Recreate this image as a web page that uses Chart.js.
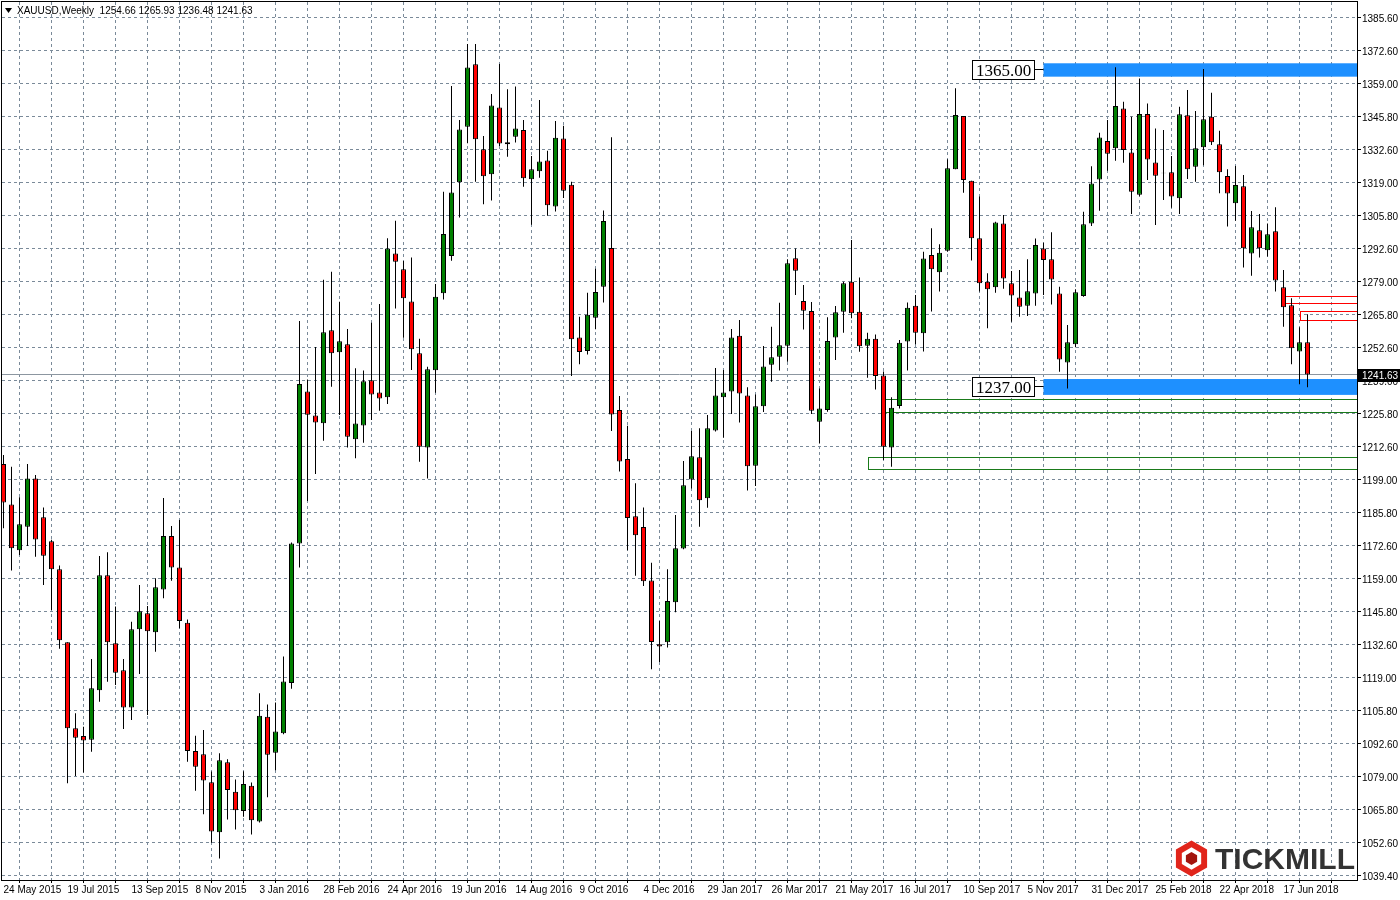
<!DOCTYPE html>
<html>
<head>
<meta charset="utf-8">
<title>XAUUSD Weekly</title>
<script src="https://cdn.jsdelivr.net/npm/chart.js@4.4.1/dist/chart.umd.min.js"></script>
<style>
  html, body { margin: 0; padding: 0; background: #fff; }
  #wrap { width: 1400px; height: 900px; }
</style>
</head>
<body>
<div id="wrap"><canvas id="chart" width="1400" height="900"></canvas></div>
<script>
const symbolTitle = 'XAUUSD,Weekly';
const lastQuote = ['1254.66', '1265.93', '1236.48', '1241.63'];
const currentPrice = 1241.63;

// weekly candles, 24 May 2015 .. 8 Jul 2018
const opens = [
  1205.5, 1189.2, 1170.7, 1180.2, 1199.7, 1184.0, 1174.3, 1163.0, 1133.6, 1098.9,
  1095.8, 1094.3, 1114.2, 1160.6, 1133.2, 1122.3, 1107.3, 1138.8, 1145.3, 1137.6,
  1154.9, 1176.5, 1163.8, 1141.5, 1089.7, 1088.4, 1077.1, 1056.9, 1085.2, 1073.3,
  1065.5, 1075.7, 1061.3, 1103.5, 1089.0, 1096.9, 1117.1, 1173.4, 1234.8, 1225.1,
  1222.0, 1259.5, 1250.6, 1253.8, 1215.5, 1221.0, 1239.3, 1234.4, 1232.4, 1290.5,
  1284.1, 1271.1, 1250.2, 1212.2, 1243.3, 1274.4, 1289.4, 1319.2, 1341.6, 1366.8,
  1332.5, 1322.4, 1349.4, 1334.5, 1337.6, 1340.3, 1320.4, 1323.6, 1328.0, 1309.4,
  1336.9, 1318.2, 1256.6, 1251.1, 1264.5, 1277.0, 1292.7, 1227.3, 1207.5, 1184.4,
  1180.1, 1158.5, 1132.8, 1133.6, 1149.7, 1171.4, 1199.3, 1208.2, 1191.7, 1219.0,
  1232.4, 1234.8, 1257.3, 1233.2, 1204.8, 1228.8, 1245.6, 1248.8, 1253.2, 1288.5,
  1271.3, 1267.2, 1222.6, 1227.3, 1256.6, 1266.9, 1279.1, 1266.9, 1253.2, 1256.1,
  1241.2, 1212.2, 1228.9, 1254.9, 1269.4, 1258.3, 1289.8, 1282.9, 1291.6, 1324.4,
  1345.9, 1319.8, 1296.6, 1279.1, 1276.8, 1302.6, 1278.4, 1272.7, 1269.4, 1274.3,
  1292.5, 1288.1, 1274.3, 1246.5, 1253.8, 1273.3, 1302.6, 1320.3, 1335.8, 1332.9,
  1349.0, 1331.2, 1314.2, 1346.7, 1327.2, 1323.0, 1323.2, 1312.7, 1346.2, 1325.5,
  1333.3, 1345.6, 1334.5, 1321.7, 1310.7, 1317.6, 1290.5, 1299.8, 1291.8, 1299.4,
  1276.8, 1269.6, 1250.9, 1254.66
];
const highs = [
  1209.1, 1204.4, 1192.1, 1205.5, 1201.1, 1188.0, 1174.9, 1164.6, 1133.6, 1104.9,
  1099.5, 1126.8, 1168.4, 1169.9, 1148.0, 1126.8, 1141.9, 1156.7, 1148.2, 1159.4,
  1191.8, 1180.5, 1182.9, 1142.8, 1095.9, 1098.2, 1081.4, 1088.8, 1086.4, 1078.2,
  1081.5, 1077.0, 1113.0, 1108.5, 1109.3, 1127.8, 1173.8, 1263.2, 1239.6, 1252.7,
  1279.9, 1283.1, 1271.0, 1260.0, 1244.1, 1243.2, 1262.5, 1270.1, 1296.6, 1303.7,
  1287.4, 1288.8, 1256.1, 1244.8, 1278.1, 1315.4, 1358.0, 1344.3, 1375.0, 1375.0,
  1337.9, 1354.8, 1366.9, 1356.7, 1357.8, 1344.3, 1329.8, 1352.4, 1331.9, 1343.9,
  1342.0, 1319.4, 1264.9, 1274.6, 1284.3, 1307.8, 1337.4, 1233.0, 1220.9, 1197.7,
  1188.0, 1165.7, 1142.2, 1163.0, 1184.9, 1206.7, 1218.8, 1219.9, 1225.3, 1244.3,
  1243.4, 1260.0, 1263.6, 1236.5, 1233.6, 1253.1, 1260.9, 1270.6, 1288.1, 1292.5,
  1277.7, 1270.9, 1236.0, 1264.7, 1269.3, 1279.1, 1295.9, 1280.8, 1258.5, 1257.8,
  1242.8, 1232.4, 1255.5, 1270.7, 1273.7, 1291.2, 1300.6, 1294.2, 1328.5, 1357.1,
  1345.9, 1319.8, 1313.4, 1282.5, 1303.3, 1306.0, 1283.4, 1283.8, 1288.1, 1296.5,
  1294.8, 1299.0, 1277.0, 1261.6, 1276.0, 1307.3, 1325.7, 1339.2, 1344.3, 1365.6,
  1351.7, 1345.6, 1361.1, 1351.0, 1340.9, 1340.3, 1329.8, 1349.7, 1356.4, 1347.9,
  1364.9, 1355.3, 1340.0, 1324.4, 1325.8, 1322.1, 1307.6, 1306.4, 1302.6, 1309.1,
  1283.8, 1272.4, 1260.7, 1265.93
];
const lows = [
  1179.6, 1162.5, 1168.8, 1172.4, 1168.1, 1156.7, 1146.6, 1131.0, 1076.7, 1079.6,
  1081.0, 1089.4, 1109.6, 1117.7, 1116.3, 1098.6, 1102.2, 1120.8, 1104.2, 1129.8,
  1151.3, 1158.4, 1139.2, 1085.4, 1073.7, 1064.2, 1052.7, 1046.3, 1062.1, 1058.0,
  1063.2, 1056.0, 1060.9, 1071.0, 1081.9, 1096.5, 1114.8, 1163.8, 1190.6, 1201.5,
  1214.9, 1236.7, 1225.3, 1212.2, 1207.8, 1214.1, 1223.3, 1227.0, 1229.7, 1268.3,
  1256.5, 1243.4, 1206.4, 1199.7, 1234.3, 1271.9, 1287.5, 1305.0, 1334.9, 1319.4,
  1310.3, 1311.8, 1333.8, 1329.5, 1335.2, 1317.4, 1302.1, 1321.0, 1305.7, 1307.4,
  1312.8, 1241.0, 1245.8, 1249.7, 1259.9, 1270.7, 1218.8, 1202.5, 1170.7, 1160.4,
  1156.3, 1122.7, 1125.6, 1131.5, 1145.7, 1171.1, 1195.6, 1180.2, 1187.9, 1218.6,
  1216.1, 1225.7, 1222.3, 1194.8, 1196.6, 1226.5, 1238.7, 1243.2, 1246.8, 1273.7,
  1259.8, 1225.7, 1213.8, 1226.6, 1247.5, 1258.5, 1264.3, 1250.8, 1240.3, 1235.6,
  1207.1, 1204.4, 1227.9, 1243.2, 1253.8, 1250.9, 1267.0, 1275.1, 1291.2, 1324.4,
  1315.0, 1287.6, 1275.1, 1260.3, 1274.6, 1276.2, 1262.9, 1264.9, 1265.2, 1269.4,
  1273.7, 1269.9, 1242.7, 1236.0, 1252.6, 1273.0, 1301.5, 1307.7, 1323.8, 1327.9,
  1327.1, 1306.4, 1313.6, 1320.1, 1301.9, 1312.0, 1308.9, 1306.4, 1320.5, 1319.4,
  1326.1, 1334.2, 1314.8, 1301.3, 1303.7, 1284.8, 1281.5, 1288.8, 1289.2, 1275.1,
  1260.9, 1245.8, 1237.7, 1236.48
];
const closes = [
  1190.0, 1171.5, 1181.2, 1199.7, 1175.1, 1168.5, 1163.0, 1134.4, 1098.9, 1095.1,
  1093.9, 1115.0, 1160.6, 1133.6, 1121.3, 1107.3, 1138.8, 1146.1, 1138.0, 1155.8,
  1176.5, 1163.8, 1142.2, 1089.7, 1083.4, 1077.8, 1057.2, 1086.0, 1074.0, 1065.8,
  1076.4, 1061.8, 1103.9, 1088.2, 1097.6, 1117.8, 1173.4, 1237.8, 1225.4, 1222.3,
  1258.7, 1250.2, 1255.0, 1216.5, 1221.9, 1238.9, 1233.6, 1231.9, 1292.5, 1287.1,
  1272.4, 1251.8, 1212.5, 1243.7, 1273.0, 1298.3, 1315.1, 1340.5, 1365.5, 1336.5,
  1321.6, 1350.2, 1334.8, 1335.3, 1340.9, 1320.8, 1324.4, 1327.6, 1309.9, 1337.2,
  1315.8, 1255.9, 1250.7, 1265.7, 1274.9, 1303.6, 1225.5, 1206.5, 1183.7, 1176.8,
  1158.2, 1133.7, 1131.9, 1150.2, 1171.5, 1196.9, 1208.6, 1190.9, 1219.9, 1233.2,
  1234.4, 1256.6, 1234.0, 1204.6, 1228.8, 1244.9, 1248.6, 1253.4, 1286.5, 1283.5,
  1267.4, 1227.0, 1227.9, 1255.1, 1266.7, 1278.4, 1266.3, 1253.0, 1256.1, 1241.0,
  1212.5, 1228.2, 1254.4, 1268.6, 1258.5, 1288.4, 1284.1, 1290.8, 1324.8, 1346.3,
  1320.1, 1296.6, 1278.4, 1276.0, 1303.0, 1280.4, 1273.5, 1269.0, 1275.2, 1293.9,
  1287.8, 1280.0, 1247.7, 1254.6, 1274.8, 1302.3, 1318.7, 1337.3, 1330.7, 1350.0,
  1332.2, 1315.4, 1346.7, 1328.4, 1321.8, 1322.8, 1313.4, 1346.6, 1324.4, 1332.9,
  1344.6, 1335.3, 1323.2, 1314.7, 1318.1, 1292.6, 1301.0, 1292.6, 1298.2, 1279.6,
  1268.8, 1252.2, 1254.6, 1241.63
];

// one date label every 8 weeks
const dateLabels = [
  '24 May 2015', '19 Jul 2015', '13 Sep 2015', '8 Nov 2015', '3 Jan 2016', '28 Feb 2016',
  '24 Apr 2016', '19 Jun 2016', '14 Aug 2016', '9 Oct 2016', '4 Dec 2016', '29 Jan 2017',
  '26 Mar 2017', '21 May 2017', '16 Jul 2017', '10 Sep 2017', '5 Nov 2017', '31 Dec 2017',
  '25 Feb 2018', '22 Apr 2018', '17 Jun 2018'
];
const priceLabels = [
  '1385.60', '1372.60', '1359.00', '1345.80', '1332.60', '1319.00', '1305.80', '1292.60',
  '1279.00', '1265.80', '1252.60', '1239.00', '1225.80', '1212.60', '1199.00', '1185.80',
  '1172.60', '1159.00', '1145.80', '1132.60', '1119.00', '1105.80', '1092.60', '1079.00',
  '1065.80', '1052.60', '1039.40'
];
const priceTop = 1385.6;
const priceStep = 13.3155;

// drawn objects: support/resistance zones, boxes
const zones = [
  { text: '1365.00', level: 1365.0, top: 1367.2, bottom: 1361.8 },
  { text: '1237.00', level: 1237.0, top: 1239.8, bottom: 1233.4 }
];
const zoneStart = 130;
const zoneLabelFrom = 121.1;
const zoneLabelTo = 128.8;
const greenBoxes = [
  { from: 110, top: 1231.6, bottom: 1226.6 },
  { from: 108, top: 1208.2, bottom: 1203.4 }
];
const redBoxes = [
  { from: 160, top: 1273.2, bottom: 1270.4 },
  { from: 162, top: 1267.1, bottom: 1263.5 }
];

const FONT = 'Liberation Sans, Arial, sans-serif';
const idx = opens.map((_, i) => i);
const upColor = '#008000';
const downColor = '#ff0000';
const bodyColors = idx.map(i => closes[i] >= opens[i] ? upColor : downColor);

const drawings = {
    id: 'drawings',
    beforeDatasetsDraw(chart) {
        const { ctx, chartArea, scales: { x, y } } = chart;
        ctx.save();
        ctx.beginPath();
        ctx.rect(chartArea.left, chartArea.top, chartArea.width, chartArea.height);
        ctx.clip();

        // blue zones
        ctx.fillStyle = '#1e90ff';
        zones.forEach(z => {
            const x0 = x.getPixelForValue(zoneStart);
            const y0 = y.getPixelForValue(z.top);
            const y1 = y.getPixelForValue(z.bottom);
            ctx.fillRect(x0, y0, chartArea.right - x0, y1 - y0);
        });

        // outlined boxes
        ctx.lineWidth = 1;
        const outline = (b, color) => {
            const x0 = Math.round(x.getPixelForValue(b.from)) + 0.5;
            const y0 = Math.round(y.getPixelForValue(b.top)) + 0.5;
            const y1 = Math.round(y.getPixelForValue(b.bottom)) + 0.5;
            ctx.strokeStyle = color;
            ctx.strokeRect(x0, y0, chartArea.right + 2 - x0, y1 - y0);
        };
        greenBoxes.forEach(b => outline(b, '#1a7a1a'));
        redBoxes.forEach(b => outline(b, '#ff0000'));

        // current price line
        const py = Math.round(y.getPixelForValue(currentPrice)) + 0.5;
        ctx.strokeStyle = '#8c96a0';
        ctx.beginPath();
        ctx.moveTo(chartArea.left, py);
        ctx.lineTo(chartArea.right, py);
        ctx.stroke();
        ctx.restore();
    },
    afterDraw(chart) {
        const { ctx, chartArea, scales: { x, y } } = chart;
        ctx.save();

        // zone labels
        zones.forEach(z => {
            const x0 = Math.round(x.getPixelForValue(zoneLabelFrom)) + 0.5;
            const x1 = Math.round(x.getPixelForValue(zoneLabelTo)) + 0.5;
            const yc = Math.round(y.getPixelForValue(z.level)) + 0.5;
            ctx.fillStyle = '#fff';
            ctx.strokeStyle = '#000';
            ctx.lineWidth = 1;
            ctx.fillRect(x0, yc - 9, x1 - x0, 19);
            ctx.strokeRect(x0, yc - 9, x1 - x0, 19);
            ctx.beginPath();
            ctx.moveTo(x1, yc);
            ctx.lineTo(x.getPixelForValue(zoneStart), yc);
            ctx.stroke();
            ctx.fillStyle = '#000';
            ctx.font = '17px Liberation Serif, Times New Roman, serif';
            ctx.textAlign = 'center';
            ctx.textBaseline = 'middle';
            ctx.fillText(z.text, (x0 + x1) / 2, yc + 2);
        });

        // frame
        ctx.strokeStyle = '#000';
        ctx.lineWidth = 1;
        ctx.strokeRect(Math.round(chartArea.left) - 0.5, Math.round(chartArea.top) - 0.5,
            Math.round(chartArea.width) + 1, Math.round(chartArea.height) + 1);

        // current price tag on the axis
        const py = Math.round(y.getPixelForValue(currentPrice));
        ctx.fillStyle = '#000';
        ctx.fillRect(chartArea.right, py - 5, 1400 - chartArea.right, 13);
        ctx.fillStyle = '#fff';
        ctx.font = '10px ' + FONT;
        ctx.textAlign = 'left';
        ctx.textBaseline = 'middle';
        ctx.fillText(currentPrice.toFixed(2), chartArea.right + 5, py + 2);

        // header
        ctx.fillStyle = '#000';
        ctx.beginPath();
        ctx.moveTo(5, 8);
        ctx.lineTo(12, 8);
        ctx.lineTo(8.5, 13);
        ctx.closePath();
        ctx.fill();
        ctx.font = '10px ' + FONT;
        ctx.fillText(symbolTitle + '  ' + lastQuote.join(' '), 17, 11);

        // logo
        const cx = 1191.5, cy = 858.5, r = 18;
        const hex = (rad) => {
            ctx.beginPath();
            for (let i = 0; i < 6; i++) {
                const a = Math.PI / 3 * i - Math.PI / 2;
                const px = cx + rad * Math.cos(a), pyy = cy + rad * Math.sin(a);
                if (i === 0) ctx.moveTo(px, pyy); else ctx.lineTo(px, pyy);
            }
            ctx.closePath();
        };
        ctx.fillStyle = '#e1251b';
        hex(r);
        ctx.fill();
        ctx.fillStyle = '#fff';
        hex(r * 0.62);
        ctx.fill();
        ctx.fillStyle = '#a3140e';
        hex(r * 0.36);
        ctx.fill();
        ctx.fillStyle = '#333333';
        ctx.font = 'bold 30px ' + FONT;
        ctx.textAlign = 'left';
        ctx.textBaseline = 'alphabetic';
        ctx.fillText('TICKMILL', 1215, 869);
        ctx.restore();
    }
};

const ctx = document.getElementById('chart').getContext('2d');
new Chart(ctx, {
    type: 'bar',
    data: {
        datasets: [
            {
                label: 'wick',
                data: idx.map(i => ({ x: i, y: [lows[i], highs[i]] })),
                backgroundColor: '#000',
                borderWidth: 0,
                barThickness: 1,
                grouped: false,
                inflateAmount: 0,
                order: 2
            },
            {
                label: 'body',
                data: idx.map(i => ({ x: i, y: [opens[i], closes[i]] })),
                backgroundColor: bodyColors,
                borderColor: '#000',
                borderWidth: 1,
                borderSkipped: false,
                barThickness: 5,
                grouped: false,
                inflateAmount: 0,
                order: 1
            }
        ]
    },
    options: {
        responsive: false,
        animation: false,
        layout: { padding: { left: 2, top: 2, right: 0, bottom: 0 } },
        plugins: {
            legend: { display: false },
            tooltip: { enabled: false }
        },
        scales: {
            x: {
                type: 'linear',
                min: -0.1875,
                max: 169.1875,
                offset: false,
                afterBuildTicks: s => {
                    s.ticks = [];
                    for (let v = 0; v <= 168; v += 4) s.ticks.push({ value: v });
                },
                afterFit: s => {
                    s.height = 20;
                    s.paddingLeft = 0;
                    s.paddingRight = 0;
                },
                ticks: {
                    autoSkip: false,
                    maxRotation: 0,
                    align: 'start',
                    padding: 1,
                    color: '#000',
                    font: { family: FONT, size: 10 },
                    callback: v => v % 8 === 0 ? (dateLabels[v / 8] || '') : ''
                },
                grid: { color: '#7a8a99', tickColor: '#000', tickLength: 3 },
                border: { display: false, dash: [3, 3] }
            },
            y: {
                position: 'right',
                min: 1037.66,
                max: 1391.93,
                afterBuildTicks: s => {
                    s.ticks = priceLabels.map((_, i) => ({ value: priceTop - priceStep * i }));
                },
                afterFit: s => {
                    s.width = 43;
                    s.paddingTop = 0;
                    s.paddingBottom = 0;
                },
                ticks: {
                    padding: 1,
                    labelOffset: 2,
                    color: '#000',
                    font: { family: FONT, size: 10 },
                    callback: (v, i) => priceLabels[i]
                },
                grid: { color: '#7a8a99', tickColor: '#000', tickLength: 4 },
                border: { display: false, dash: [3, 3] }
            }
        }
    },
    plugins: [drawings]
});
</script>
</body>
</html>
